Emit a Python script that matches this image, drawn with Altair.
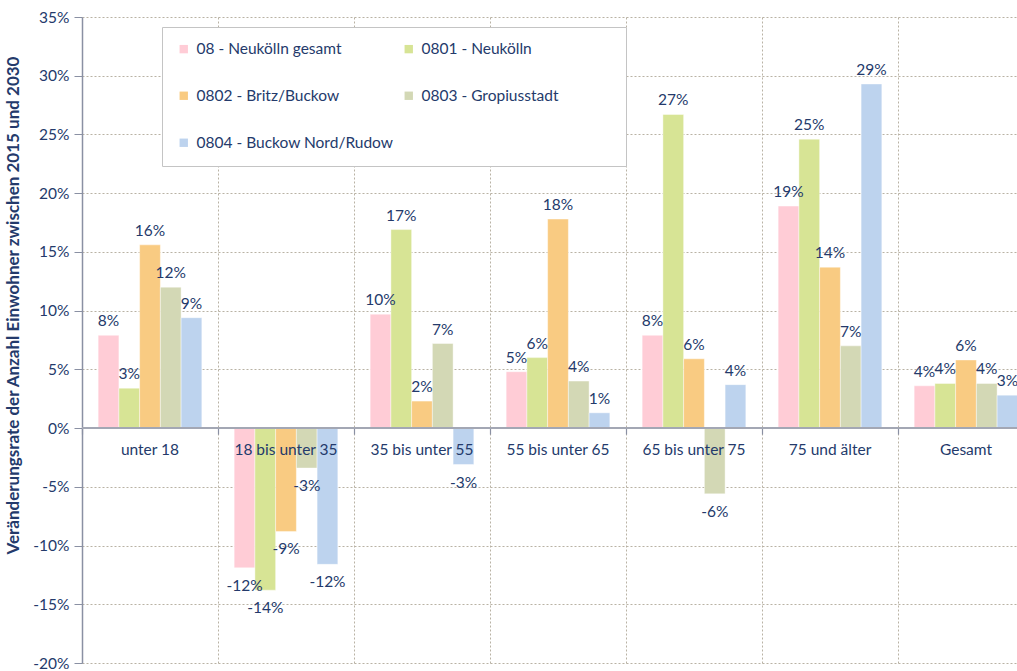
import altair as alt
import pandas as pd

categories = ["unter 18", "18 bis unter 35", "35 bis unter 55", "55 bis unter 65",
              "65 bis unter 75", "75 und älter", "Gesamt"]
series = ["08 - Neukölln gesamt", "0801 - Neukölln", "0802 - Britz/Buckow",
          "0803 - Gropiusstadt", "0804 - Buckow Nord/Rudow"]
colors = ["#FFCCD6", "#D7E495", "#F9CB82", "#D3D8B5", "#BDD3EE"]

# values in percent, one list per series (order of categories)
v_gesamt = [7.9, -11.9, 9.7, 4.8, 7.9, 18.9, 3.6]
v_0801 = [3.4, -13.8, 16.9, 6.0, 26.7, 24.6, 3.8]
v_0802 = [15.6, -8.8, 2.3, 17.8, 5.9, 13.7, 5.8]
v_0803 = [12.0, -3.4, 7.2, 4.0, -5.6, 7.0, 3.8]
v_0804 = [9.4, -11.6, -3.1, 1.3, 3.7, 29.3, 2.8]

rows = []
for s, vals in zip(series, [v_gesamt, v_0801, v_0802, v_0803, v_0804]):
    for c, v in zip(categories, vals):
        rows.append({"cat": c, "series": s, "value": v / 100.0})
df = pd.DataFrame(rows)
cat_df = pd.DataFrame({"cat": categories})

FONT = "Lato"
NAVY = "#243a6b"
FS = 15.5
H = 646
Y_MIN, Y_MAX = -0.20, 0.35

x_enc = alt.X("cat:N", sort=categories,
              scale=alt.Scale(paddingInner=0, paddingOuter=0, range=[0, 952]),
              axis=alt.Axis(title=None, labels=False, ticks=True, tickSize=6,
                            tickColor="#8a90a3", tickWidth=1.2, domain=False,
                            offset=-H * (0 - Y_MIN) / (Y_MAX - Y_MIN),
                            grid=True, bandPosition=0, gridDash=[2, 2],
                            gridColor="#b9b2a4", gridWidth=1))
xo_enc = alt.XOffset("series:N", sort=series,
                     scale=alt.Scale(paddingInner=0, paddingOuter=0.78))
y_scale = alt.Scale(domain=[Y_MIN, Y_MAX], nice=False, zero=False)
y_enc = alt.Y("value:Q", scale=y_scale,
              axis=alt.Axis(title="Veränderungsrate der Anzahl Einwohner zwischen 2015 und 2030",
                            format=".0%", values=[-0.2 + 0.05 * i for i in range(12)],
                            grid=True, gridDash=[2, 2], gridColor="#b9b2a4",
                            domainColor="#8a90a3", domainWidth=1.5,
                            tickColor="#8a90a3", tickSize=8,
                            labelFont=FONT, labelFontSize=FS, labelColor=NAVY,
                            labelPadding=5,
                            titleFont=FONT, titleFontSize=17, titleFontWeight="bold",
                            titleColor=NAVY, titlePadding=10, titleY=288))

base = alt.Chart(df)

bars = base.mark_bar(stroke="#ffffff", strokeWidth=0.6, strokeOpacity=0.7).encode(
    x=x_enc, xOffset=xo_enc, y=y_enc,
    color=alt.Color("series:N", sort=series,
                    scale=alt.Scale(domain=series, range=colors),
                    legend=alt.Legend(title=" ", titleOrient="right", titlePadding=54,
                                      orient="none", legendX=80, legendY=10,
                                      columns=2, direction="horizontal",
                                      fillColor="#ffffff", strokeColor="#c4c4c4",
                                      padding=14, rowPadding=30, columnPadding=7,
                                      symbolType="square", symbolSize=70,
                                      symbolStrokeWidth=0, labelFont=FONT,
                                      labelFontSize=FS, labelColor=NAVY,
                                      labelLimit=300, labelOffset=5)),
)

pos_labels = base.transform_filter("datum.value >= 0").mark_text(
    baseline="bottom", dy=-6, font=FONT, fontSize=FS, color=NAVY
).encode(x=alt.X("cat:N", sort=categories), xOffset=alt.XOffset("series:N", sort=series),
         y=alt.Y("value:Q"), text=alt.Text("value:Q", format=".0%"))

neg_labels = base.transform_filter("datum.value < 0").mark_text(
    baseline="top", dy=11, font=FONT, fontSize=FS, color=NAVY
).encode(x=alt.X("cat:N", sort=categories), xOffset=alt.XOffset("series:N", sort=series),
         y=alt.Y("value:Q"), text=alt.Text("value:Q", format=".0%"))

zero_rule = alt.Chart(cat_df).mark_rule(color="#a3a7b4", strokeWidth=2).encode(
    y=alt.datum(0)
)

cat_labels = alt.Chart(cat_df).mark_text(
    baseline="middle", dy=22, font=FONT, fontSize=FS, color=NAVY
).encode(x=alt.X("cat:N", sort=categories), y=alt.datum(0), text="cat:N")

chart = alt.layer(bars, zero_rule, pos_labels, neg_labels, cat_labels).properties(
    width=935, height=H,
    autosize=alt.AutoSizeParams(type="none"),
    padding={"left": 82, "top": 17, "right": 0, "bottom": 8},
    background="#ffffff",
).configure_view(stroke=None)

chart.save("out.html", embed_options={
    "renderer": "svg", "actions": False,
    "formatLocale": {"decimal": ".", "thousands": ",", "grouping": [3],
                     "currency": ["$", ""], "minus": "-"},
})
